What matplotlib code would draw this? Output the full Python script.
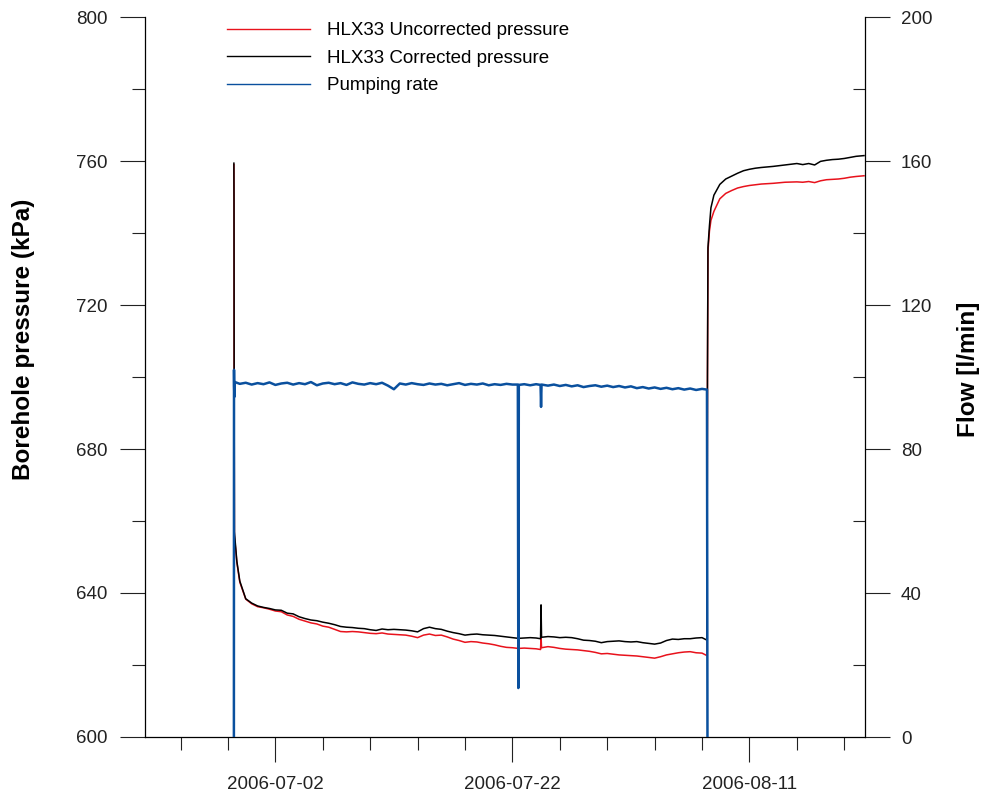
import matplotlib
matplotlib.use("Agg")
import matplotlib.pyplot as plt
import pandas as pd

plt.rcParams['font.family'] = ['Liberation Sans', 'DejaVu Sans']

# borehole pressure (kPa)
p_times = [
    "2006-06-28 12:00", "2006-06-28 12:15", "2006-06-28 12:30", "2006-06-28 13:00",
    "2006-06-28 18:00", "2006-06-29 00:00", "2006-06-29 12:00", "2006-06-30 00:00",
    "2006-06-30 12:00", "2006-07-01 00:00", "2006-07-01 12:00", "2006-07-02 00:00",
    "2006-07-02 12:00", "2006-07-03 00:00", "2006-07-03 12:00", "2006-07-04 00:00",
    "2006-07-04 12:00", "2006-07-05 00:00", "2006-07-05 12:00", "2006-07-06 00:00",
    "2006-07-06 12:00", "2006-07-07 00:00", "2006-07-07 12:00", "2006-07-08 00:00",
    "2006-07-08 12:00", "2006-07-09 00:00", "2006-07-09 12:00", "2006-07-10 00:00",
    "2006-07-10 12:00", "2006-07-11 00:00", "2006-07-11 12:00", "2006-07-12 00:00",
    "2006-07-12 12:00", "2006-07-13 00:00", "2006-07-13 12:00", "2006-07-14 00:00",
    "2006-07-14 12:00", "2006-07-15 00:00", "2006-07-15 12:00", "2006-07-16 00:00",
    "2006-07-16 12:00", "2006-07-17 00:00", "2006-07-17 12:00", "2006-07-18 00:00",
    "2006-07-18 12:00", "2006-07-19 00:00", "2006-07-19 12:00", "2006-07-20 00:00",
    "2006-07-20 12:00", "2006-07-21 00:00", "2006-07-21 12:00", "2006-07-22 00:00",
    "2006-07-22 12:00", "2006-07-23 00:00", "2006-07-23 12:00", "2006-07-24 00:00",
    "2006-07-24 09:00", "2006-07-24 10:00", "2006-07-24 11:00", "2006-07-25 00:00",
    "2006-07-25 12:00", "2006-07-26 00:00", "2006-07-26 12:00", "2006-07-27 00:00",
    "2006-07-27 12:00", "2006-07-28 00:00", "2006-07-28 12:00", "2006-07-29 00:00",
    "2006-07-29 12:00", "2006-07-30 00:00", "2006-07-30 12:00", "2006-07-31 00:00",
    "2006-07-31 12:00", "2006-08-01 00:00", "2006-08-01 12:00", "2006-08-02 00:00",
    "2006-08-02 12:00", "2006-08-03 00:00", "2006-08-03 12:00", "2006-08-04 00:00",
    "2006-08-04 12:00", "2006-08-05 00:00", "2006-08-05 12:00", "2006-08-06 00:00",
    "2006-08-06 12:00", "2006-08-07 00:00", "2006-08-07 10:00", "2006-08-07 11:00",
    "2006-08-07 12:00", "2006-08-07 15:00", "2006-08-07 18:00", "2006-08-08 00:00",
    "2006-08-08 12:00", "2006-08-09 00:00", "2006-08-09 12:00", "2006-08-10 00:00",
    "2006-08-10 12:00", "2006-08-11 00:00", "2006-08-11 12:00", "2006-08-12 00:00",
    "2006-08-13 00:00", "2006-08-14 00:00", "2006-08-15 00:00", "2006-08-15 12:00",
    "2006-08-16 00:00", "2006-08-16 12:00", "2006-08-17 00:00", "2006-08-17 12:00",
    "2006-08-18 00:00", "2006-08-18 12:00", "2006-08-19 00:00", "2006-08-19 12:00",
    "2006-08-20 00:00", "2006-08-20 16:00",
]
uncorrected = [
    759.0, 748.0, 700.0, 656.0, 648.5, 643.0, 638.3, 637.0,
    636.2, 635.9, 635.5, 635.0, 634.8, 633.9, 633.5, 632.7,
    632.2, 631.7, 631.4, 630.8, 630.5, 629.9, 629.3, 629.2,
    629.3, 629.2, 629.0, 628.8, 628.7, 628.9, 628.6, 628.5,
    628.4, 628.3, 628.0, 627.6, 628.3, 628.6, 628.2, 628.3,
    627.8, 627.2, 626.8, 626.3, 626.5, 626.4, 626.1, 625.9,
    625.6, 625.2, 624.9, 624.8, 624.6, 624.7, 624.6, 624.5,
    624.3, 628.0, 624.8, 625.1, 624.9, 624.6, 624.4, 624.3,
    624.2, 624.0, 623.8, 623.5, 623.1, 623.2, 623.0, 622.8,
    622.7, 622.6, 622.5, 622.3, 622.1, 621.9, 622.3, 622.8,
    623.1, 623.4, 623.6, 623.7, 623.4, 623.3, 622.6, 700.0,
    735.0, 740.5, 743.5, 746.0, 749.5, 751.0, 751.8, 752.5,
    752.9, 753.2, 753.4, 753.6, 753.8, 754.1, 754.2, 754.1,
    754.3, 754.0, 754.5, 754.8, 754.9, 755.0, 755.2, 755.5,
    755.7, 755.9,
]
corrected = [
    759.4, 749.0, 701.0, 657.0, 648.8, 643.3, 638.4, 637.2,
    636.4, 636.0, 635.7, 635.3, 635.2, 634.4, 634.2, 633.4,
    632.9, 632.5, 632.3, 631.9, 631.6, 631.2, 630.7, 630.5,
    630.4, 630.2, 630.1, 629.8, 629.6, 630.0, 629.8, 629.9,
    629.8, 629.7, 629.5, 629.2, 630.1, 630.5, 630.1, 629.9,
    629.4, 629.0, 628.7, 628.3, 628.5, 628.6, 628.4, 628.3,
    628.2, 628.0, 627.8, 627.6, 627.4, 627.5, 627.6, 627.5,
    627.3, 636.7, 627.7, 627.9, 627.8, 627.6, 627.7, 627.6,
    627.3, 626.9, 626.8, 626.6, 626.2, 626.5, 626.6, 626.7,
    626.5, 626.4, 626.5, 626.2, 626.0, 625.8, 626.1, 626.8,
    627.2, 627.1, 627.3, 627.3, 627.5, 627.6, 626.9, 700.0,
    736.0, 742.0, 747.0, 750.5, 753.5, 755.0, 755.8, 756.6,
    757.3, 757.7, 758.0, 758.2, 758.5, 758.9, 759.3, 759.0,
    759.3, 758.9, 759.9, 760.2, 760.4, 760.5, 760.7, 761.0,
    761.3, 761.5,
]

# pumping rate (l/min)
q_times = [
    "2006-06-28 12:00", "2006-06-28 12:15", "2006-06-28 12:30", "2006-06-28 13:00",
    "2006-06-28 14:00", "2006-06-29 00:00", "2006-06-29 12:00", "2006-06-30 00:00",
    "2006-06-30 12:00", "2006-07-01 00:00", "2006-07-01 12:00", "2006-07-02 00:00",
    "2006-07-02 12:00", "2006-07-03 00:00", "2006-07-03 12:00", "2006-07-04 00:00",
    "2006-07-04 12:00", "2006-07-05 00:00", "2006-07-05 12:00", "2006-07-06 00:00",
    "2006-07-06 12:00", "2006-07-07 00:00", "2006-07-07 12:00", "2006-07-08 00:00",
    "2006-07-08 12:00", "2006-07-09 00:00", "2006-07-09 12:00", "2006-07-10 00:00",
    "2006-07-10 12:00", "2006-07-11 00:00", "2006-07-11 12:00", "2006-07-12 00:00",
    "2006-07-12 12:00", "2006-07-13 00:00", "2006-07-13 12:00", "2006-07-14 00:00",
    "2006-07-14 12:00", "2006-07-15 00:00", "2006-07-15 12:00", "2006-07-16 00:00",
    "2006-07-16 12:00", "2006-07-17 00:00", "2006-07-17 12:00", "2006-07-18 00:00",
    "2006-07-18 12:00", "2006-07-19 00:00", "2006-07-19 12:00", "2006-07-20 00:00",
    "2006-07-20 12:00", "2006-07-21 00:00", "2006-07-21 12:00", "2006-07-22 00:00",
    "2006-07-22 11:00", "2006-07-22 12:00", "2006-07-22 13:00", "2006-07-23 00:00",
    "2006-07-23 12:00", "2006-07-24 00:00", "2006-07-24 09:00", "2006-07-24 10:00",
    "2006-07-24 11:00", "2006-07-25 00:00", "2006-07-25 12:00", "2006-07-26 00:00",
    "2006-07-26 12:00", "2006-07-27 00:00", "2006-07-27 12:00", "2006-07-28 00:00",
    "2006-07-28 12:00", "2006-07-29 00:00", "2006-07-29 12:00", "2006-07-30 00:00",
    "2006-07-30 12:00", "2006-07-31 00:00", "2006-07-31 12:00", "2006-08-01 00:00",
    "2006-08-01 12:00", "2006-08-02 00:00", "2006-08-02 12:00", "2006-08-03 00:00",
    "2006-08-03 12:00", "2006-08-04 00:00", "2006-08-04 12:00", "2006-08-05 00:00",
    "2006-08-05 12:00", "2006-08-06 00:00", "2006-08-06 12:00", "2006-08-07 00:00",
    "2006-08-07 10:00", "2006-08-07 11:00",
]
pumping = [
    0.0, 102.0, 97.5, 94.5,
    98.6, 98.1, 98.4, 97.9,
    98.3, 98.0, 98.5, 97.8,
    98.2, 98.4, 97.9, 98.3,
    98.0, 98.6, 97.7, 98.2,
    98.4, 98.0, 98.3, 97.8,
    98.5, 98.1, 97.9, 98.3,
    98.0, 98.4, 97.6, 96.6,
    98.2, 97.9, 98.3, 98.0,
    97.8, 98.2, 97.9, 98.1,
    97.7, 98.0, 98.3, 97.8,
    98.1, 97.9, 98.2, 97.7,
    98.0, 97.8, 98.1, 97.9,
    97.9, 13.6, 97.8, 98.0,
    97.7, 98.0, 97.8, 91.7,
    97.9, 97.6, 97.9, 97.5,
    97.8, 97.4, 97.7, 97.2,
    97.5, 97.7, 97.3, 97.6,
    97.2, 97.5, 97.1, 97.4,
    96.9, 97.2, 96.8, 97.1,
    96.7, 97.0, 96.6, 96.9,
    96.5, 96.8, 96.4, 96.7,
    96.5, 0.0,
]

p_t = pd.to_datetime(p_times)
q_t = pd.to_datetime(q_times)

fig = plt.figure(figsize=(9.81, 7.98), dpi=100)
ax = fig.add_axes([145 / 981, 1 - 737 / 798, 720 / 981, 720 / 798])

l1, = ax.plot(p_t, uncorrected, color='#e8121c', lw=1.1, label='HLX33 Uncorrected pressure')
l2, = ax.plot(p_t, corrected, color='black', lw=1.1, label='HLX33 Corrected pressure')

ax2 = ax.twinx()
l3, = ax2.plot(q_t, pumping, color='#0a509e', lw=1.8, label='Pumping rate')

ax.set_xlim(pd.Timestamp('2006-06-21'), pd.Timestamp('2006-08-20 18:00'))
ax.set_ylim(600, 800)
ax2.set_ylim(0, 200)

ax.set_yticks(range(600, 801, 40))
ax.set_yticks(range(620, 800, 40), minor=True)
ax2.set_yticks(range(0, 201, 40))
ax2.set_yticks(range(20, 200, 40), minor=True)
ax.set_xticks(pd.to_datetime(['2006-07-02', '2006-07-22', '2006-08-11']))
ax.set_xticklabels(['2006-07-02', '2006-07-22', '2006-08-11'])
ax.set_xticks(pd.date_range('2006-06-24', '2006-08-19', freq='4D'), minor=True)

for s in ['top', 'right']:
    ax.spines[s].set_visible(False)
for s in ['top', 'left', 'bottom']:
    ax2.spines[s].set_visible(False)
for a in (ax, ax2):
    for s in a.spines.values():
        s.set_linewidth(0.9)

ax.tick_params(axis='both', which='major', direction='out', length=18, width=0.8,
               labelsize=13.5, pad=9, colors='#222222')
ax.tick_params(axis='both', which='minor', direction='out', length=9.5, width=0.8,
               colors='#222222')
ax.tick_params(axis='x', which='major', pad=10)
ax2.tick_params(axis='y', which='major', direction='out', length=18, width=0.8,
                labelsize=13.5, pad=8, colors='#222222')
ax2.tick_params(axis='y', which='minor', direction='in', length=9, width=0.8,
                colors='#222222')

ax.set_ylabel('Borehole pressure (kPa)', fontsize=17.5, fontweight='bold')
ax.yaxis.set_label_coords(-0.153, 0.553)
ax2.set_ylabel('Flow [l/min]', fontsize=17.5, fontweight='bold')
ax2.yaxis.set_label_coords(1.128, 0.51)

leg = fig.legend(handles=[l1, l2, l3], loc='upper left',
                 bbox_to_anchor=(227 / 981, 1 - 22 / 798),
                 frameon=False, fontsize=13.5, handlelength=4.4, handletextpad=0.95,
                 labelspacing=0.56, borderpad=0, borderaxespad=0)
for line in leg.get_lines():
    line.set_linewidth(1.0)

fig.savefig('out.png', dpi=100)
